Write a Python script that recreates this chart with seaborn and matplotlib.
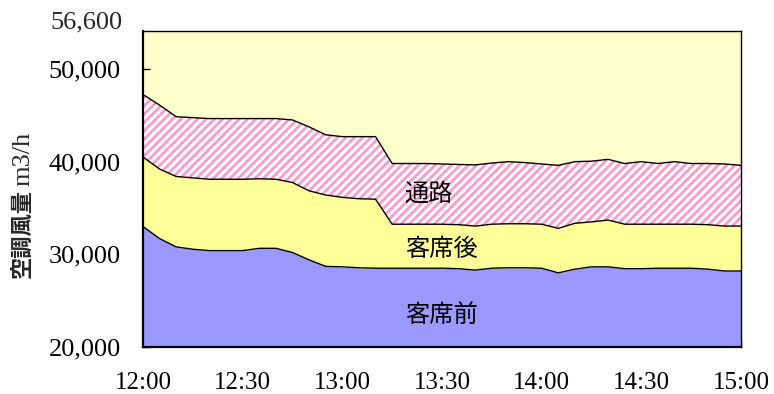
import matplotlib
matplotlib.use("Agg")
import matplotlib.pyplot as plt
import seaborn as sns
import numpy as np
import pandas as pd

# ---- data ----
times = ["12:00", "12:05", "12:10", "12:15", "12:20", "12:25", "12:30", "12:35", "12:40",
         "12:45", "12:50", "12:55", "13:00", "13:05", "13:10", "13:15", "13:20", "13:25",
         "13:30", "13:35", "13:40", "13:45", "13:50", "13:55", "14:00", "14:05", "14:10",
         "14:15", "14:20", "14:25", "14:30", "14:35", "14:40", "14:45", "14:50", "14:55", "15:00"]
front = [33000, 31700, 30800, 30550, 30400, 30400, 30400, 30650, 30650, 30200, 29400, 28700,
         28650, 28550, 28500, 28500, 28500, 28500, 28500, 28450, 28300, 28500, 28550, 28550,
         28500, 28000, 28400, 28650, 28650, 28450, 28450, 28500, 28500, 28500, 28400, 28200, 28200]
rear = [7500, 7500, 7600, 7700, 7700, 7700, 7700, 7500, 7450, 7550, 7450, 7700,
        7500, 7450, 7450, 4750, 4750, 4750, 4750, 4750, 4750, 4750, 4750, 4750,
        4750, 4800, 4950, 4850, 5050, 4800, 4800, 4750, 4750, 4750, 4800, 4850, 4850]
aisle = [6750, 6900, 6450, 6500, 6550, 6550, 6550, 6500, 6550, 6750, 6900, 6500,
         6550, 6700, 6750, 6550, 6550, 6550, 6500, 6500, 6600, 6600, 6700, 6600,
         6500, 6800, 6650, 6550, 6550, 6550, 6750, 6550, 6750, 6550, 6600, 6700, 6550]
series_names = ["客席前", "客席後", "通路"]
ytick_values = [20000, 30000, 40000, 50000]
xtick_labels = ["12:00", "12:30", "13:00", "13:30", "14:00", "14:30", "15:00"]
top_label = "56,600"
ylabel_cjk = "空調風量"
ylabel_unit = "m3/h"

# ---- style ----
sns.set_theme(style="white")
plt.rcParams["font.family"] = ["Liberation Serif", "Noto Sans CJK JP"]
plt.rcParams["hatch.linewidth"] = 2.0
plt.rcParams["hatch.color"] = "#FF99CC"

minutes = np.array([int(t[:2]) * 60 + int(t[3:]) - 720 for t in times])
b1 = np.array(front)
b2 = b1 + np.array(rear)
b3 = b2 + np.array(aisle)

fig = plt.figure(figsize=(7.74, 3.94), dpi=100)
ax = fig.add_axes([143 / 774, 47 / 394, (741 - 143) / 774, (347 - 31) / 394])
ax.set_facecolor("#FFFFCC")

ymin, ymax = 20000, 54100
ax.fill_between(minutes, ymin, b1, facecolor="#9999FF", linewidth=0, zorder=1)
ax.fill_between(minutes, b1, b2, facecolor="#FFFF99", linewidth=0, zorder=1)
ax.fill_between(minutes, b2, b3, facecolor="white", edgecolor="#FF99CC",
                hatch="////", linewidth=0, zorder=1)

df = pd.DataFrame({"min": np.concatenate([minutes] * 3),
                   "val": np.concatenate([b1, b2, b3]),
                   "layer": np.repeat(series_names, len(minutes))})
sns.lineplot(data=df, x="min", y="val", units="layer", estimator=None,
             color="black", linewidth=1.0, ax=ax, zorder=3, legend=False)

ax.set_xlim(0, 180)
ax.set_ylim(ymin, ymax)
ax.set_xlabel("")
ax.set_ylabel("")

xt = np.arange(0, 181, 10)
ax.set_xticks(xt)
lab_map = {i * 30: l for i, l in enumerate(xtick_labels)}
ax.set_xticklabels([lab_map.get(int(v), "") for v in xt])
ax.set_yticks(ytick_values)
ax.set_yticklabels([f"{v:,}" for v in ytick_values])
ax.tick_params(axis="x", direction="in", length=5, width=1, pad=18, labelsize=18,
               bottom=True, colors="black")
ax.tick_params(axis="y", direction="in", length=5, width=1, pad=16, labelsize=19,
               left=True, colors="black")

for s in ["left", "bottom"]:
    ax.spines[s].set_linewidth(1.6)
    ax.spines[s].set_color("black")
for s in ["top", "right"]:
    ax.spines[s].set_linewidth(1.0)
    ax.spines[s].set_color("black")

# area labels
for txt, xm, yv in [(series_names[2], 86, 36500), (series_names[1], 90, 30600),
                    (series_names[0], 90, 23500)]:
    ax.text(xm, yv, txt, ha="center", va="center", fontsize=17.5,
            family=["Noto Sans CJK JP"], zorder=4, color="black")

fig.text(123 / 774, 1 - 22 / 394, top_label, ha="right", va="center", fontsize=19)
fig.text(22 / 774, 1 - 278 / 394, ylabel_cjk, ha="center", va="bottom", rotation=90,
         fontsize=16, family=["Noto Sans CJK JP"], fontweight="bold")
fig.text(23 / 774, 1 - 186 / 394, ylabel_unit, ha="center", va="bottom", rotation=90,
         fontsize=19, family=["Liberation Serif"])

fig.savefig("out.png", dpi=100, facecolor="white")
